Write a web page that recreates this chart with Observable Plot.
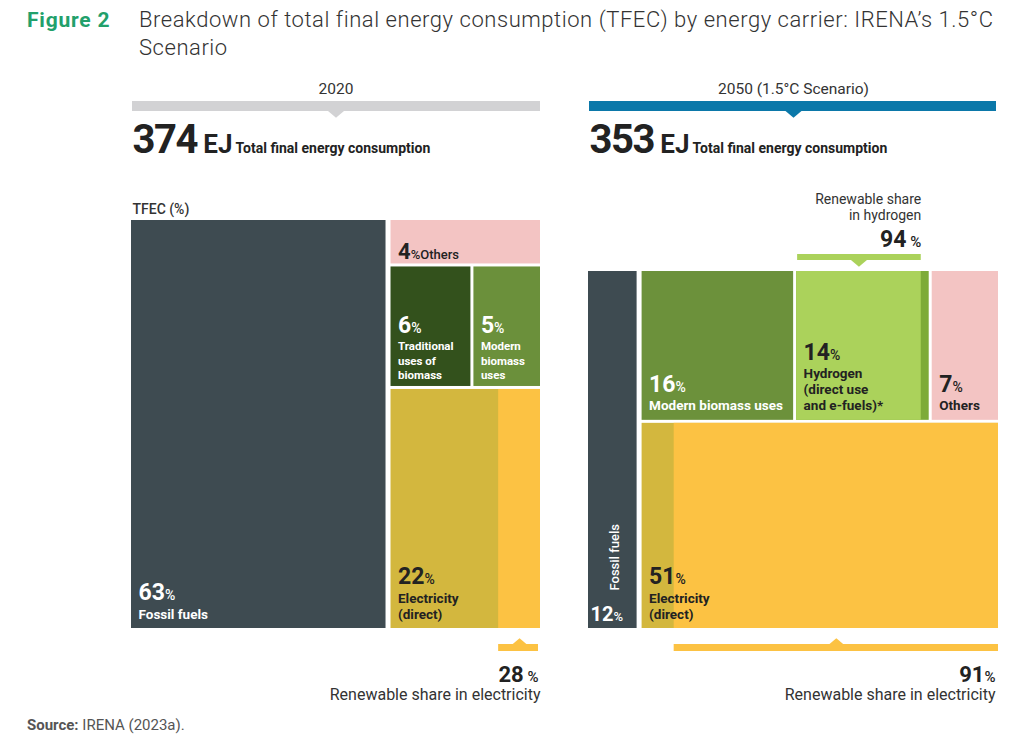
<!DOCTYPE html>
<html>
<head>
<meta charset="utf-8">
<script src="https://cdn.jsdelivr.net/npm/d3@7"></script>
<script src="https://cdn.jsdelivr.net/npm/@observablehq/plot@0.6"></script>
<style>
  body { margin: 0; background: #fff; font-family: Roboto, "Open Sans", sans-serif; }
  #head { position: relative; height: 70px; }
  #fig { position: absolute; left: 27px; top: 8px; font: bold 21px Roboto, sans-serif; letter-spacing: 0.8px; color: #22a06b; }
  #ttl { position: absolute; left: 139px; top: 6px; font: 300 22px/28px Roboto, sans-serif; letter-spacing: 0.55px; color: #333; }
  #chart { height: 640px; }
  #src { height: 34px; padding-left: 27px; font: 15px/30px Roboto, sans-serif; color: #555; }
  #src b { font-weight: 700; }
</style>
</head>
<body>
<div id="head"><span id="fig">Figure 2</span><span id="ttl">Breakdown of total final energy consumption (TFEC) by energy carrier: IRENA’s 1.5°C<br>Scenario</span></div>
<div id="chart"></div>
<div id="src"><b>Source:</b> IRENA (2023a).</div>
<script>
// ---------------- DATA ----------------
const panels = ["2020", "2050 (1.5°C Scenario)"];
const totalEJ = [374, 353];
const carriers2020 = ["Fossil fuels", "Others", "Traditional uses of biomass", "Modern biomass uses", "Electricity (direct)"];
const share2020 = [63, 4, 6, 5, 22];
const labels2020 = ["Fossil fuels", "Others", "Traditional\nuses of\nbiomass", "Modern\nbiomass\nuses", "Electricity\n(direct)"];
const carriers2050 = ["Fossil fuels", "Modern biomass uses", "Hydrogen (direct use and e-fuels)*", "Others", "Electricity (direct)"];
const share2050 = [12, 16, 14, 7, 51];
const labels2050 = ["Fossil fuels", "Modern biomass uses", "Hydrogen\n(direct use\nand e-fuels)*", "Others", "Electricity\n(direct)"];
const renewableElectricity = [28, 91];   // % renewable share in electricity, 2020 / 2050
const renewableHydrogen2050 = 94;        // % renewable share in hydrogen, 2050

// ---------------- STYLES ----------------
const cellFill = {
  "2020|Fossil fuels": "#3e4b51",
  "2020|Others": "#f3c4c3",
  "2020|Traditional uses of biomass": "#33511c",
  "2020|Modern biomass uses": "#6b903b",
  "2020|Electricity (direct)": "#d3b73e",
  "2050|Fossil fuels": "#3e4b51",
  "2050|Modern biomass uses": "#6c913b",
  "2050|Hydrogen (direct use and e-fuels)*": "#7dab38",
  "2050|Others": "#f3c4c3",
  "2050|Electricity (direct)": "#d3b73e"
};
const renewFill = { elec: "#fcc243", h2: "#abd25b" };
const ink = { light: "#ffffff", dark: "#222222" };
const darkInk = new Set(["Others", "Electricity (direct)", "Hydrogen (direct use and e-fuels)*"]);
const headerFill = ["#d2d2d4", "#0b78a9"];

// ---------------- LAYOUT (frames are page-layout constants) ----------------
const frames = [
  { x0: 131, x1: 540, y0: 150, y1: 558 },
  { x0: 588, x1: 998, y0: 201, y1: 558 }
];
const HEADER_BAR = { y1: 31, y2: 41 };
const colGap = 5, rowGap = 3;

function layout2020(f) {
  const v = Object.fromEntries(carriers2020.map((c, i) => [c, share2020[i]]));
  const total = d3.sum(share2020);
  const cells = [];
  const fossilW = (f.x1 - f.x0 - colGap) * v["Fossil fuels"] / total;
  cells.push({ carrier: "Fossil fuels", x1: f.x0, x2: f.x0 + fossilW, y1: f.y0, y2: f.y1 });
  const rx = f.x0 + fossilW + colGap;
  const rest = total - v["Fossil fuels"];
  const H = f.y1 - f.y0 - 2 * rowGap;
  const bio = v["Traditional uses of biomass"] + v["Modern biomass uses"];
  const hO = H * v["Others"] / rest;
  const hB = H * bio / rest;
  let y = f.y0;
  cells.push({ carrier: "Others", x1: rx, x2: f.x1, y1: y, y2: y + hO });
  y += hO + rowGap;
  const tw = (f.x1 - rx - rowGap) * v["Traditional uses of biomass"] / bio;
  cells.push({ carrier: "Traditional uses of biomass", x1: rx, x2: rx + tw, y1: y, y2: y + hB });
  cells.push({ carrier: "Modern biomass uses", x1: rx + tw + rowGap, x2: f.x1, y1: y, y2: y + hB });
  y += hB + rowGap;
  cells.push({ carrier: "Electricity (direct)", x1: rx, x2: f.x1, y1: y, y2: f.y1 });
  return cells;
}

function layout2050(f) {
  const v = Object.fromEntries(carriers2050.map((c, i) => [c, share2050[i]]));
  const total = d3.sum(share2050);
  const cells = [];
  const fossilW = (f.x1 - f.x0 - colGap) * v["Fossil fuels"] / total;
  cells.push({ carrier: "Fossil fuels", x1: f.x0, x2: f.x0 + fossilW, y1: f.y0, y2: f.y1 });
  const rx = f.x0 + fossilW + colGap;
  const rest = total - v["Fossil fuels"];
  const top = ["Modern biomass uses", "Hydrogen (direct use and e-fuels)*", "Others"];
  const topSum = d3.sum(top, c => v[c]);
  const hTop = (f.y1 - f.y0 - rowGap) * topSum / rest;
  const W = f.x1 - rx - 2 * rowGap;
  let x = rx;
  for (const c of top) {
    const w = W * v[c] / topSum;
    cells.push({ carrier: c, x1: x, x2: x + w, y1: f.y0, y2: f.y0 + hTop });
    x += w + rowGap;
  }
  cells.push({ carrier: "Electricity (direct)", x1: rx, x2: f.x1, y1: f.y0 + hTop + rowGap, y2: f.y1 });
  return cells;
}

const cells2020 = layout2020(frames[0]).map(c => ({ ...c, panel: 0, key: "2020|" + c.carrier,
  share: share2020[carriers2020.indexOf(c.carrier)], label: labels2020[carriers2020.indexOf(c.carrier)] }));
const cells2050 = layout2050(frames[1]).map(c => ({ ...c, panel: 1, key: "2050|" + c.carrier,
  share: share2050[carriers2050.indexOf(c.carrier)], label: labels2050[carriers2050.indexOf(c.carrier)] }));
const cells = [...cells2020, ...cells2050].map(c => ({ ...c, fill: cellFill[c.key] }));

// renewable sub-parts
const elecCells = [cells2020.find(c => c.carrier === "Electricity (direct)"), cells2050.find(c => c.carrier === "Electricity (direct)")];
const renewParts = elecCells.map((c, i) => {
  const w = c.x2 - c.x1;
  return { x1: c.x2 - w * renewableElectricity[i] / 100, x2: c.x2, y1: c.y1, y2: c.y2, fill: renewFill.elec, panel: i };
});
const h2Cell = cells2050.find(c => c.carrier.startsWith("Hydrogen"));
const h2Renew = { x1: h2Cell.x1, x2: h2Cell.x1 + (h2Cell.x2 - h2Cell.x1) * renewableHydrogen2050 / 100, y1: h2Cell.y1, y2: h2Cell.y2, fill: renewFill.h2 };
renewParts.push(h2Renew);

// ---------------- LABELS ----------------
const NUM = { "font-size": 23, "font-weight": 700 };
const PCT = { "font-size": 14, "font-weight": 500 };
const numLabels = [], lineLabels = [], inlineLabels = [], rotLabels = [];
for (const c of cells) {
  const small = c.key === "2020|Traditional uses of biomass" || c.key === "2020|Modern biomass uses";
  const col = darkInk.has(c.carrier) ? ink.dark : ink.light;
  if (c.key === "2020|Others") {
    inlineLabels.push({ x: c.x1 + 7, y: c.y2 - 5, fill: col,
      parts: [[String(c.share), { "font-size": 22, "font-weight": 700 }], ["%Others", { "font-size": 13, "font-weight": 500 }]] });
    continue;
  }
  if (c.key === "2050|Fossil fuels") {
    rotLabels.push({ x: (c.x1 + c.x2) / 2 + 2, y: c.y2 - 38, text: c.label });
    numLabels.push({ x: c.x1 + 2, y: c.y2 - 8, fill: col,
      parts: [[String(c.share), { "font-size": 20, "font-weight": 700 }], ["%", { "font-size": 13, "font-weight": 500 }]] });
    continue;
  }
  const n = c.label.split("\n").length;
  const lh = small ? 14.5 : 16;
  const pad = small ? 7 : 10;
  const yLast = c.y2 - pad;
  const yFirst = yLast - (n - 1) * lh;
  lineLabels.push({ x: c.x1 + 7, y: yLast, text: c.label, fill: col, size: small ? 11.5 : 13.5 });
  numLabels.push({ x: c.x1 + 7, y: yFirst - (small ? 17 : 18.5), fill: col, parts: [[String(c.share), NUM], ["%", PCT]] });
}

// ---------------- HEADERS ----------------
const headers = panels.map((p, i) => ({ name: p, x1: frames[i].x0 + 1, x2: frames[i].x1 - (i ? 2 : 0),
  cx: (frames[i].x0 + frames[i].x1) / 2, fill: headerFill[i], total: totalEJ[i] }));
const totals = headers.map(h => ({ x: h.x1, y: 82,
  parts: [[String(h.total), { "font-size": 40, "font-weight": 700, "letter-spacing": -1.5 }], [" EJ", { "font-size": 26, "font-weight": 700 }],
          [" Total final energy consumption", { "font-size": 14, "font-weight": 700 }]] }));

// ---------------- ANNOTATIONS ----------------
const ELEC_BAR = { y1: 574, y2: 581 };
const elecBars = renewParts.slice(0, 2).map((r, i) => ({ x1: r.x1, x2: r.x2 - (i ? 0 : 2), cx: (r.x1 + r.x2) / 2, fill: renewFill.elec }));
const elecPct = elecBars.map((b, i) => ({ x: b.x2 - (i ? 3 : 0), y: 611,
  parts: [[String(renewableElectricity[i]), { "font-size": 22, "font-weight": 700 }], [i ? "%" : " %", { "font-size": 15, "font-weight": 500 }]] }));
const elecTxt = elecBars.map((b, i) => ({ x: b.x2 - (i ? 3 : -2), y: 629, text: "Renewable share in electricity" }));
const H2_BAR = { y1: 184, y2: 190 };
const h2Bar = [{ x1: h2Renew.x1 + 1, x2: h2Renew.x2, cx: (h2Renew.x1 + h2Renew.x2) / 2, fill: renewFill.h2 }];
const h2Pct = [{ x: h2Renew.x2, y: 176,
  parts: [[String(renewableHydrogen2050), { "font-size": 23, "font-weight": 700 }], [" %", { "font-size": 15, "font-weight": 500 }]] }];
const h2Txt = [{ x: h2Renew.x2, y: 149, text: "Renewable share\nin hydrogen" }];

// wide triangle symbols
const triUp = { draw(ctx, size) { const r = Math.sqrt(size / Math.PI); ctx.moveTo(-r, 0); ctx.lineTo(r, 0); ctx.lineTo(0, -r * 0.85); ctx.closePath(); } };
const triDown = { draw(ctx, size) { const r = Math.sqrt(size / Math.PI); ctx.moveTo(-r, 0); ctx.lineTo(r, 0); ctx.lineTo(0, r * 0.85); ctx.closePath(); } };

const FONT = "Roboto, 'Open Sans', sans-serif";
const richText = (data, label, opts = {}) => Plot.text(data, {
  x: "x", y: "y", text: d => d.parts.map(p => p[0]).join(""), lineAnchor: "bottom", textAnchor: "start",
  fontFamily: FONT, fill: d => d.fill ?? "#222", ariaDescription: label, ...opts
});

const chart = Plot.plot({
  width: 1024, height: 640, margin: 0,
  x: { type: "identity", axis: null },
  y: { type: "identity", axis: null },
  color: { type: "identity" },
  style: { fontFamily: FONT, overflow: "visible" },
  marks: [
    // headers
    Plot.rect(headers, { x1: "x1", x2: "x2", y1: () => HEADER_BAR.y1, y2: () => HEADER_BAR.y2, fill: "fill" }),
    Plot.dot(headers, { x: "cx", y: () => HEADER_BAR.y2 - 0.5, r: 8, symbol: triDown, fill: "fill", stroke: null }),
    Plot.text(headers, { x: "cx", y: 23, text: "name", lineAnchor: "bottom", fontSize: 15.5, fill: "#333", fontFamily: FONT }),
    richText(totals, "totals"),
    Plot.text(["TFEC (%)"], { x: frames[0].x0 + 1, y: 143, text: d => d, lineAnchor: "bottom", textAnchor: "start", fontSize: 14, fontWeight: 500, fill: "#333", fontFamily: FONT }),
    // cells
    Plot.rect(cells, { x1: "x1", x2: "x2", y1: "y1", y2: "y2", fill: "fill" }),
    Plot.rect(renewParts, { x1: "x1", x2: "x2", y1: "y1", y2: "y2", fill: "fill" }),
    // cell labels
    Plot.text(lineLabels.filter(d => d.size !== 11.5), { x: "x", y: "y", text: "text", fill: "fill", lineAnchor: "bottom", textAnchor: "start", fontSize: 13.5, fontWeight: 700, lineHeight: 16 / 13.5, fontFamily: FONT }),
    Plot.text(lineLabels.filter(d => d.size === 11.5), { x: "x", y: "y", text: "text", fill: "fill", lineAnchor: "bottom", textAnchor: "start", fontSize: 11.5, fontWeight: 700, lineHeight: 14.5 / 11.5, fontFamily: FONT }),
    richText(numLabels, "nums"),
    richText(inlineLabels, "inline"),
    Plot.text(rotLabels, { x: "x", y: "y", text: "text", rotate: -90, textAnchor: "start", lineAnchor: "middle", fill: "#fff", fontSize: 13, fontWeight: 500, fontFamily: FONT }),
    // hydrogen annotation
    Plot.rect(h2Bar, { x1: "x1", x2: "x2", y1: () => H2_BAR.y1, y2: () => H2_BAR.y2, fill: "fill" }),
    Plot.dot(h2Bar, { x: "cx", y: () => H2_BAR.y2 - 0.5, r: 8, symbol: triDown, fill: "fill", stroke: null }),
    richText(h2Pct, "h2pct", { textAnchor: "end" }),
    Plot.text(h2Txt, { x: "x", y: "y", text: "text", lineAnchor: "bottom", textAnchor: "end", fontSize: 14, lineHeight: 16 / 14, fill: "#333", fontFamily: FONT }),
    // electricity annotations
    Plot.rect(elecBars, { x1: "x1", x2: "x2", y1: () => ELEC_BAR.y1, y2: () => ELEC_BAR.y2, fill: "fill" }),
    Plot.dot(elecBars, { x: "cx", y: () => ELEC_BAR.y1 + 0.5, r: 8, symbol: triUp, fill: "fill", stroke: null }),
    richText(elecPct, "elecpct", { textAnchor: "end" }),
    Plot.text(elecTxt, { x: "x", y: "y", text: "text", lineAnchor: "bottom", textAnchor: "end", fontSize: 16, fill: "#333", fontFamily: FONT })
  ]
});

// rich text: split the text drawn by Plot into tspans of different sizes
function enrich(svg, label, data) {
  svg.querySelectorAll(`g[aria-description="${label}"] text`).forEach((el, j) => {
    const d = data[j];
    if (!d) return;
    el.textContent = "";
    for (const [s, st] of d.parts) {
      const t = document.createElementNS("http://www.w3.org/2000/svg", "tspan");
      t.textContent = s;
      for (const k in st) t.setAttribute(k, st[k]);
      el.appendChild(t);
    }
  });
}
enrich(chart, "totals", totals);
enrich(chart, "nums", numLabels);
enrich(chart, "inline", inlineLabels);
enrich(chart, "h2pct", h2Pct);
enrich(chart, "elecpct", elecPct);

document.getElementById("chart").appendChild(chart);
</script>
</body>
</html>
